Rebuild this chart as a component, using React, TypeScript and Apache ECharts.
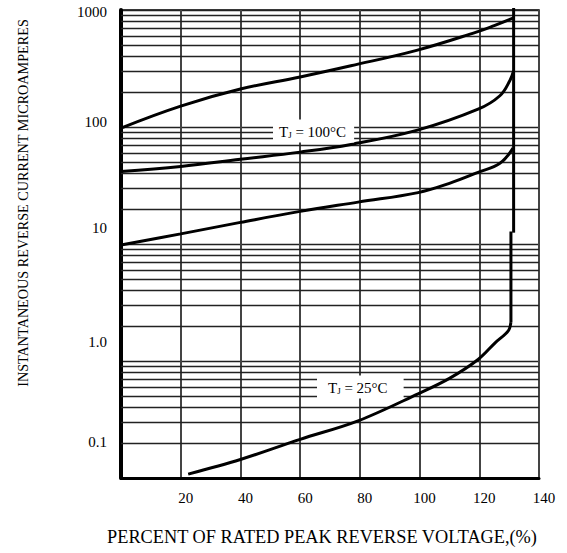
import React, { useEffect, useRef } from "react";
import * as echarts from "echarts";

// ---- data ----
const xTickValues = [0, 20, 40, 60, 80, 100, 120, 140];
const decadeStarts = [0.1, 1, 10, 100];
const minorMultipliers = [2, 3, 4, 5, 6, 7, 8, 9];

// upper curve
const curveAVoltage = [0, 20, 40, 60, 77, 99, 119, 125, 131.5];
const curveACurrent = [98, 151, 211, 268, 334, 452, 647, 735, 855];
// TJ = 100°C curve
const curveBVoltage = [0, 20, 40, 60, 77, 99.3, 119.6, 126.9, 130.3, 131.5];
const curveBCurrent = [41.7, 46, 53, 61, 71, 94, 142, 185, 251, 303];
// third curve
const curveCVoltage = [0, 20, 40, 60, 79.4, 99.5, 110, 119.6, 126.9, 131.3];
const curveCCurrent = [9.8, 12.2, 15.3, 19, 22.8, 27.5, 33, 41, 49, 66];
// TJ = 25°C curve
const curveDVoltage = [22.5, 40, 60, 79.4, 99.5, 110, 119.6, 125.3, 129.7, 130.6];
const curveDCurrent = [0.108, 0.144, 0.214, 0.308, 0.524, 0.71, 1.03, 1.43, 1.81, 2.15];
// vertical breakdown line, lower and upper part
const breakdownLowVoltage = [130.6, 130.6];
const breakdownLowCurrent = [2.15, 12.8];
const breakdownHighVoltage = [131.5, 131.5];
const breakdownHighCurrent = [12.5, 1040];

const labelShift: Record<string, string> = {
  "1000": "a",
  "100": "b",
  "10": "c",
  "1.0": "d",
  "0.1": "e",
};

const FONT = "'Liberation Serif', 'Times New Roman', serif";

function pairs(xs: number[], ys: number[]) {
  return xs.map((x, i) => [x, ys[i]]);
}

export default function App() {
  const ref = useRef<HTMLDivElement>(null);
  useEffect(() => {
    if (!ref.current) return;
    const chart = echarts.init(ref.current, undefined, { renderer: "svg" });
    const minorValues: number[] = [];
    decadeStarts.forEach((d) => minorMultipliers.forEach((m) => minorValues.push(+(d * m).toPrecision(3))));
    const curveStyle = { color: "#000", width: 3 };
    const baseRich = { fontSize: 15, fontFamily: FONT, color: "#000" };
    const labelRich = {
      m: { fontSize: 15, fontFamily: FONT, fill: "#000", lineHeight: 17, verticalAlign: "bottom" },
      s: { fontSize: 9, fontFamily: FONT, fill: "#000", lineHeight: 17, verticalAlign: "bottom" },
    };
    const curve = (xs: number[], ys: number[], smooth: number | boolean) => ({
      type: "line",
      data: pairs(xs, ys),
      smooth,
      symbol: "none",
      lineStyle: curveStyle,
      z: 5,
    });
    chart.setOption({
      animation: false,
      backgroundColor: "#fff",
      grid: {
        left: 121,
        right: 28,
        top: 10,
        bottom: 75,
        show: true,
        borderColor: "#000",
        borderWidth: 1.5,
        backgroundColor: "transparent",
      },
      xAxis: {
        type: "value",
        min: 0,
        max: 140,
        interval: 20,
        axisLine: { show: true, lineStyle: { color: "#000", width: 3 } },
        axisTick: { show: false },
        splitLine: { show: true, lineStyle: { color: "#444", width: 2 } },
        axisLabel: {
          formatter: (v: number) => (v === xTickValues[0] ? "" : String(v)),
          fontSize: 15,
          fontFamily: FONT,
          color: "#000",
          margin: 12,
          padding: [0, 0, 0, 10],
        },
        name: "PERCENT OF RATED PEAK REVERSE VOLTAGE,(%)",
        nameLocation: "middle",
        nameGap: 50,
        nameTextStyle: {
          fontSize: 18.3,
          fontFamily: FONT,
          color: "#000",
          padding: [0, 16, 0, 0],
        },
      },
      yAxis: {
        type: "log",
        logBase: 10,
        min: 0.1,
        max: 1000,
        axisLine: { show: true, lineStyle: { color: "#000", width: 4 } },
        axisTick: { show: false },
        splitLine: { show: true, lineStyle: { color: "#222", width: 1.3 } },
        axisLabel: {
          margin: 14,
          fontFamily: FONT,
          fontSize: 15,
          color: "#000",
          formatter: (v: number) => {
            const t = v >= 10 ? String(Math.round(v)) : v.toFixed(1);
            return `{${labelShift[t] || "a"}|${t}}`;
          },
          rich: {
            a: { ...baseRich, padding: [4, 0, 0, 0] },
            b: { ...baseRich, padding: [0, 0, 10, 0] },
            c: { ...baseRich, padding: [0, 0, 33, 0] },
            d: { ...baseRich, padding: [0, 0, 38, 0] },
            e: { ...baseRich, padding: [0, 0, 72, 0] },
          },
        },
      },
      graphic: [
        {
          type: "text",
          x: 23,
          y: 203,
          rotation: Math.PI / 2,
          style: {
            text: "INSTANTANEOUS REVERSE CURRENT MICROAMPERES",
            fontSize: 14.2,
            fontFamily: FONT,
            fill: "#000",
            align: "center",
            verticalAlign: "middle",
          },
        },
        {
          type: "text",
          x: 273,
          y: 131,
          z: 100,
          style: {
            text: "{m|T}{s|J}{m| = 100°C}",
            align: "left",
            verticalAlign: "middle",
            backgroundColor: "#fff",
            padding: [3, 8, 3, 6],
            rich: labelRich,
          },
        },
        {
          type: "text",
          x: 317,
          y: 387,
          z: 100,
          style: {
            text: "{m|T}{s|J}{m| = 25°C}",
            align: "left",
            verticalAlign: "middle",
            backgroundColor: "#fff",
            padding: [3, 16, 3, 11],
            rich: labelRich,
          },
        },
      ],
      series: [
        {
          type: "line",
          data: [],
          silent: true,
          z: 1,
          markLine: {
            silent: true,
            symbol: "none",
            label: { show: false },
            lineStyle: { color: "#222", width: 1.3, type: "solid" },
            data: minorValues.map((v) => ({ yAxis: v })),
          },
        },
        curve(curveAVoltage, curveACurrent, 0.4),
        curve(curveBVoltage, curveBCurrent, 0.4),
        curve(curveCVoltage, curveCCurrent, 0.4),
        curve(curveDVoltage, curveDCurrent, 0.35),
        curve(breakdownLowVoltage, breakdownLowCurrent, false),
        { ...curve(breakdownHighVoltage, breakdownHighCurrent, false), clip: false },
      ],
    });
    return () => chart.dispose();
  }, []);
  return (
    <div
      ref={ref}
      style={{ position: "fixed", left: 0, top: 0, width: 567, height: 553, background: "#fff" }}
    />
  );
}
